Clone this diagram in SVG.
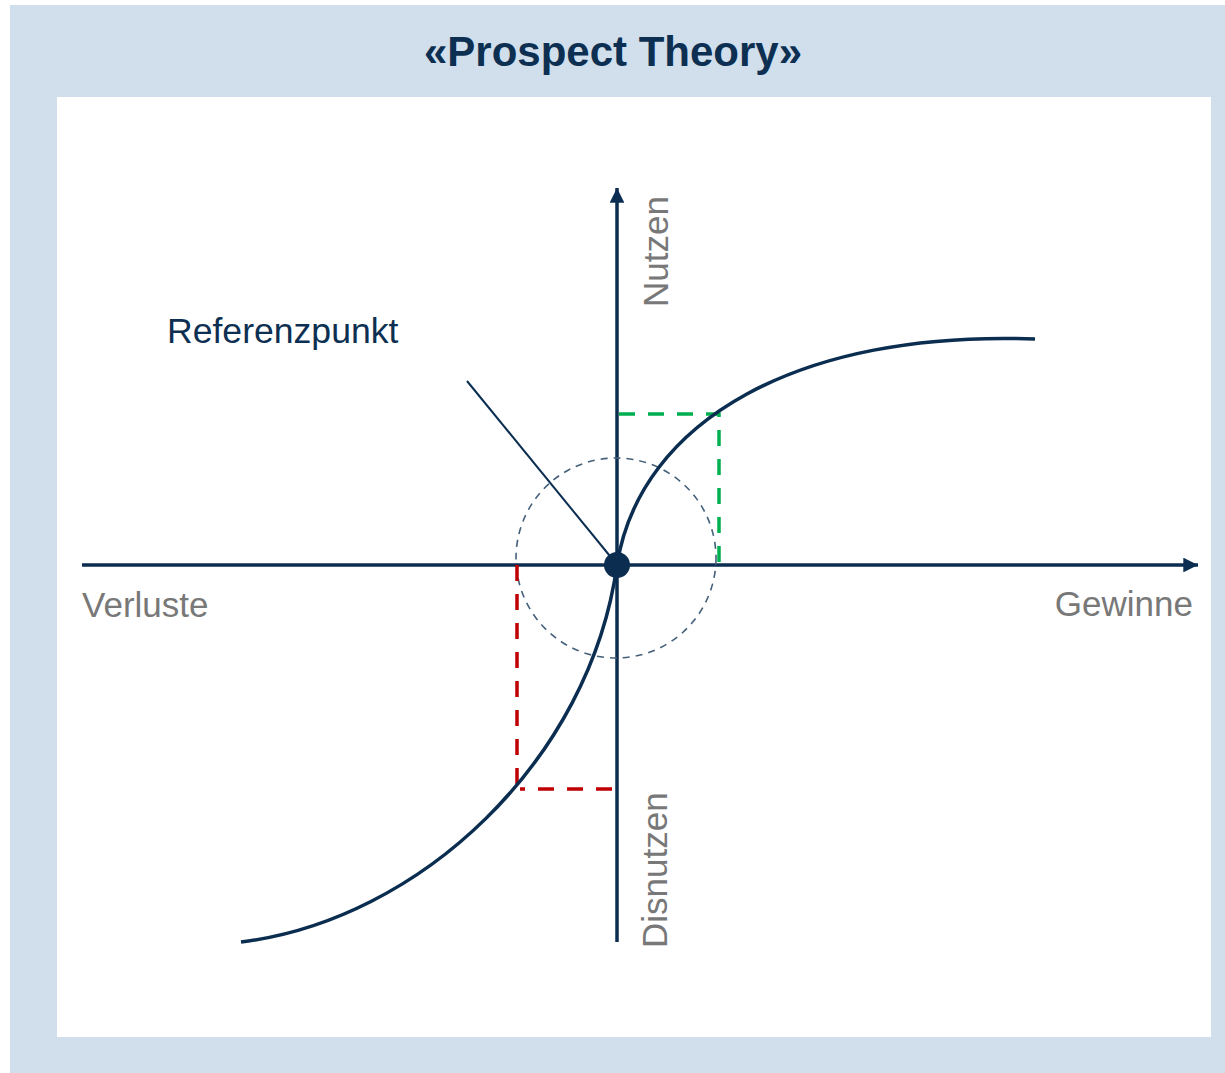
<svg xmlns="http://www.w3.org/2000/svg" width="1225" height="1073" viewBox="0 0 1225 1073">
<defs>
<style>
.ax{stroke:#0a2d50;stroke-width:3.5;fill:none}
.crv{stroke:#0a2d50;stroke-width:3.5;fill:none}
.lbl{font-family:"Liberation Sans",Arial,sans-serif;font-size:35px;fill:#787878}
.dg{stroke:#00b050;stroke-width:3.5;fill:none;stroke-dasharray:16 13}
.dr{stroke:#c00000;stroke-width:3.5;fill:none;stroke-dasharray:16 13}
</style>
<marker id="ah" viewBox="0 0 10 10" refX="10" refY="5" markerWidth="4.4" markerHeight="4.2" markerUnits="strokeWidth" orient="auto">
<path d="M0,0 L10,5 L0,10 Z" fill="#0a2d50"/>
</marker>
</defs>
<rect x="0" y="0" width="1225" height="1073" fill="#ffffff"/>
<rect x="10" y="5" width="1215" height="1068" fill="#d0dfeb"/>
<rect x="57" y="97" width="1154" height="940" fill="#ffffff"/>
<text x="613" y="66" text-anchor="middle" font-family="Liberation Sans, Arial, sans-serif" font-size="42" font-weight="bold" fill="#0d2f52">«Prospect Theory»</text>
<g id="connectors">
<line class="ax" x1="82" y1="565" x2="1198" y2="565" marker-end="url(#ah)"/>
<line class="ax" x1="617" y1="942" x2="617" y2="188" marker-end="url(#ah)"/>
<line x1="467" y1="381" x2="614" y2="561" stroke="#0a2d50" stroke-width="2"/>
</g>
<g id="reference-circle">
<circle cx="616" cy="558" r="100" fill="none" stroke="#44607a" stroke-width="1.6" stroke-dasharray="7 6"/>
</g>
<g id="gain-guides">
<path class="dg" d="M619,414 H719 V565"/>
</g>
<g id="loss-guides">
<path class="dr" d="M517,565 V789"/>
<path class="dr" d="M612,789 H520"/>
</g>
<g id="value-curve">
<path class="crv" d="M241,942 C420,920 590,760 617,565 C640,420 800,330 1035,339"/>
</g>
<g id="reference-point">
<circle cx="617" cy="565" r="13" fill="#0a2d50"/>
</g>
<g id="labels">
<text x="167" y="343" font-family="Liberation Sans, Arial, sans-serif" font-size="35.6" fill="#0d2f52">Referenzpunkt</text>
<text class="lbl" x="82" y="617">Verluste</text>
<text class="lbl" x="1193" y="616" text-anchor="end">Gewinne</text>
<text class="lbl" transform="translate(668,307) rotate(-90)">Nutzen</text>
<text class="lbl" transform="translate(667,948) rotate(-90)">Disnutzen</text>
</g>
</svg>
